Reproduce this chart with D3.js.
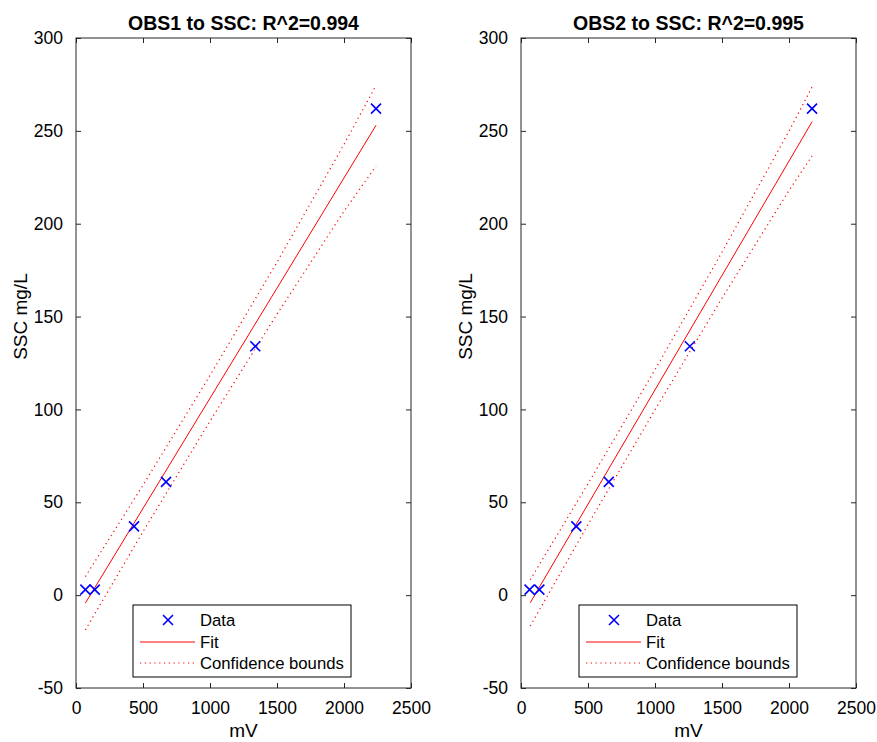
<!DOCTYPE html>
<html>
<head>
<meta charset="utf-8">
<script src="https://cdn.jsdelivr.net/npm/d3@7"></script>
<style>
  body { margin: 0; background: #fff; }
  text { font-family: "Liberation Sans", Arial, Helvetica, sans-serif; fill: #000; }
</style>
</head>
<body>
<script>
// values
const titles = ["OBS1 to SSC: R^2=0.994", "OBS2 to SSC: R^2=0.995"];
const xTicks = [0, 500, 1000, 1500, 2000, 2500];
const yTicks = [-50, 0, 50, 100, 150, 200, 250, 300];
const legendLabels = ["Data", "Fit", "Confidence bounds"];

const obs1X = [70, 140, 433, 672, 1338, 2239];
const obs1Y = [3, 3, 37, 61, 134, 262];
const fit1X = [70, 2239];
const fit1Y = [-4.3, 253];
const bound1X = [70, 500, 1000, 1500, 2000, 2239];
const upper1 = [10, 59.2, 118.3, 179.3, 242.7, 274.5];
const lower1 = [-18.7, 34.2, 93.7, 151.3, 206.7, 231];

const obs2X = [64, 137, 413, 655, 1260, 2172];
const obs2Y = [3, 3, 37, 61, 134, 262];
const fit2X = [69, 2172];
const fit2Y = [-4.1, 254.9];
const bound2X = [69, 500, 1000, 1500, 2000, 2172];
const upper2 = [8.3, 60, 121.4, 184.7, 249.9, 273.6];
const lower2 = [-16.6, 38, 99.8, 159.9, 217.9, 236.5];

const w = 877, h = 742;
const svg = d3.select("body").append("svg").attr("width", w).attr("height", h);

const panels = [
  { left: 76, title: titles[0], dx: obs1X, dy: obs1Y, fx: fit1X, fy: fit1Y, bx: bound1X, up: upper1, lo: lower1, legX: 133 },
  { left: 521, title: titles[1], dx: obs2X, dy: obs2Y, fx: fit2X, fy: fit2Y, bx: bound2X, up: upper2, lo: lower2, legX: 579 }
];
const plotTop = 38, plotBottom = 688, pw = 335;
const axisColor = "#262626";

panels.forEach(function (p) {
  const x = d3.scaleLinear().domain([0, 2500]).range([p.left, p.left + pw]);
  const y = d3.scaleLinear().domain([-50, 300]).range([plotBottom, plotTop]);
  const g = svg.append("g");

  const line = d3.line().x(d => x(d[0])).y(d => y(d[1]));

  // confidence bounds
  [p.up, p.lo].forEach(function (b) {
    g.append("path")
      .datum(p.bx.map((v, i) => [v, b[i]]))
      .attr("d", line)
      .attr("fill", "none")
      .attr("stroke", "#ff0000")
      .attr("stroke-width", 1.2)
      .attr("stroke-dasharray", "1.2,3.6");
  });

  // fit
  g.append("path")
    .datum(p.fx.map((v, i) => [v, p.fy[i]]))
    .attr("d", line)
    .attr("fill", "none")
    .attr("stroke", "#ff0000")
    .attr("stroke-width", 1);

  // data markers
  const s = 5;
  g.selectAll(".pt")
    .data(p.dx.map((v, i) => [v, p.dy[i]]))
    .enter()
    .append("path")
    .attr("class", "pt")
    .attr("d", d => {
      const cx = x(d[0]), cy = y(d[1]);
      return `M${cx - s},${cy - s}L${cx + s},${cy + s}M${cx - s},${cy + s}L${cx + s},${cy - s}`;
    })
    .attr("stroke", "#0000ff")
    .attr("stroke-width", 1.6)
    .attr("fill", "none");

  // axes: ticks inside on all four sides
  const tk = 5;
  g.append("g").attr("transform", "translate(0," + plotBottom + ")")
    .call(d3.axisBottom(x).tickValues(xTicks).tickSize(-tk).tickPadding(14).tickFormat(d => String(d)));
  g.append("g").attr("transform", "translate(0," + plotTop + ")")
    .call(d3.axisTop(x).tickValues(xTicks).tickSize(-tk).tickFormat(""));
  g.append("g").attr("transform", "translate(" + p.left + ",0)")
    .call(d3.axisLeft(y).tickValues(yTicks).tickSize(-tk).tickPadding(13).tickFormat(d => String(d)));
  g.append("g").attr("transform", "translate(" + (p.left + pw) + ",0)")
    .call(d3.axisRight(y).tickValues(yTicks).tickSize(-tk).tickFormat(""));
  g.selectAll(".domain").remove();
  g.selectAll(".tick line").attr("stroke", axisColor);
  g.selectAll(".tick text").style("font-size", "17.5px").attr("fill", "#000");

  g.append("rect")
    .attr("x", p.left).attr("y", plotTop)
    .attr("width", pw).attr("height", plotBottom - plotTop)
    .attr("fill", "none").attr("stroke", axisColor).attr("stroke-width", 1);

  // title and labels
  g.append("text")
    .attr("x", p.left + pw / 2).attr("y", 30)
    .attr("text-anchor", "middle")
    .style("font-size", "19.5px").style("font-weight", "bold")
    .text(p.title);
  g.append("text")
    .attr("x", p.left + pw / 2).attr("y", 737)
    .attr("text-anchor", "middle")
    .style("font-size", "19px")
    .text("mV");
  const ly = y(150);
  g.append("text")
    .attr("transform", "translate(" + (p.left - 49) + "," + ly + ") rotate(-90)")
    .attr("text-anchor", "middle")
    .style("font-size", "19px")
    .text("SSC mg/L");

  // legend
  const lg = g.append("g").attr("transform", "translate(" + p.legX + ",605)");
  lg.append("rect").attr("width", 218).attr("height", 72)
    .attr("fill", "#fff").attr("stroke", "#000").attr("stroke-width", 1);
  const rows = [15, 37, 58];
  lg.append("path")
    .attr("d", `M${35 - 5},${rows[0] - 5}L${35 + 5},${rows[0] + 5}M${35 - 5},${rows[0] + 5}L${35 + 5},${rows[0] - 5}`)
    .attr("stroke", "#0000ff").attr("stroke-width", 1.6);
  lg.append("line").attr("x1", 7).attr("x2", 62).attr("y1", rows[1]).attr("y2", rows[1])
    .attr("stroke", "#ff0000").attr("stroke-width", 1);
  lg.append("line").attr("x1", 7).attr("x2", 62).attr("y1", rows[2]).attr("y2", rows[2])
    .attr("stroke", "#ff0000").attr("stroke-width", 1.2).attr("stroke-dasharray", "1.2,3.6");
  legendLabels.forEach(function (t, i) {
    lg.append("text").attr("x", 67).attr("y", rows[i] + 6)
      .style("font-size", "16.7px").text(t);
  });
});
</script>
</body>
</html>
